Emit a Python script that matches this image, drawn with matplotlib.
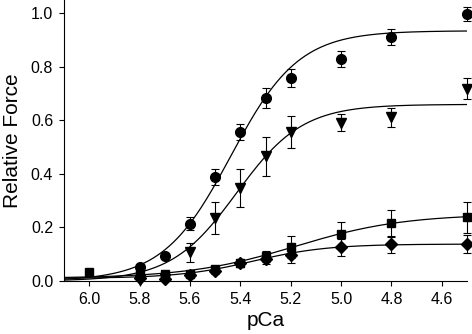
import numpy as np
import matplotlib
matplotlib.use("Agg")
import matplotlib.pyplot as plt

plt.rcParams['font.family'] = ['Liberation Sans', 'DejaVu Sans']

# data
pca_circ = [5.8, 5.7, 5.6, 5.5, 5.4, 5.3, 5.2, 5.0, 4.8, 4.5]
force_circ = [0.053, 0.094, 0.214, 0.387, 0.556, 0.684, 0.759, 0.828, 0.913, 0.997]
err_circ = [0.0, 0.0, 0.025, 0.03, 0.03, 0.038, 0.035, 0.03, 0.03, 0.025]

pca_tri = [5.8, 5.7, 5.6, 5.5, 5.4, 5.3, 5.2, 5.0, 4.8, 4.5]
force_tri = [0.004, 0.008, 0.107, 0.234, 0.348, 0.466, 0.557, 0.591, 0.611, 0.719]
err_tri = [0.0, 0.0, 0.035, 0.06, 0.07, 0.073, 0.06, 0.032, 0.036, 0.038]

pca_sq = [6.0, 5.8, 5.7, 5.6, 5.5, 5.4, 5.3, 5.2, 5.0, 4.8, 4.5]
force_sq = [0.032, 0.025, 0.025, 0.025, 0.046, 0.068, 0.092, 0.127, 0.174, 0.215, 0.238]
err_sq = [0.008, 0.0, 0.0, 0.008, 0.01, 0.015, 0.02, 0.04, 0.046, 0.05, 0.059]

pca_dia = [5.8, 5.7, 5.6, 5.5, 5.4, 5.3, 5.2, 5.0, 4.8, 4.5]
force_dia = [0.01, 0.008, 0.024, 0.036, 0.066, 0.082, 0.097, 0.126, 0.137, 0.138]
err_dia = [0.0, 0.0, 0.005, 0.008, 0.012, 0.02, 0.03, 0.032, 0.033, 0.035]

# Hill fit parameters (amplitude, pCa50, nH, baseline)
fit_circ = (0.935, 5.4375, 3.23, 0.0)
fit_tri = (0.66, 5.414, 3.33, 0.0)
fit_sq = (0.24, 5.18, 2.02, 0.01)
fit_dia = (0.128, 5.35, 2.93, 0.01)


def hill(p, amp, pca50, nh, base):
    return base + amp / (1 + 10 ** (nh * (p - pca50)))


fig = plt.figure(figsize=(4.72, 3.34), dpi=100)
ax = fig.add_axes([64 / 472, 53 / 334, 403 / 472, 281 / 334])

pfit = np.linspace(6.1, 4.5, 300)
series = [
    (pca_circ, force_circ, err_circ, fit_circ, 'o', 7),
    (pca_tri, force_tri, err_tri, fit_tri, 'v', 7.5),
    (pca_sq, force_sq, err_sq, fit_sq, 's', 6),
    (pca_dia, force_dia, err_dia, fit_dia, 'D', 5.8),
]
for px, fy, ferr, fit, mk, ms in series:
    ax.plot(pfit, hill(pfit, *fit), color='black', lw=0.9, zorder=2)
    eb = ax.errorbar(px, fy, yerr=ferr, fmt=mk, color='black', ms=ms,
                     ecolor='black', elinewidth=0.8, capsize=3, capthick=0.8,
                     zorder=3)
    for artist in eb.get_children():
        artist.set_clip_on(False)

ax.set_xlim(6.1, 4.5)
ax.set_ylim(0, 1.05)
ax.set_xticks([6.0, 5.8, 5.6, 5.4, 5.2, 5.0, 4.8, 4.6])
ax.set_yticks([0.0, 0.2, 0.4, 0.6, 0.8, 1.0])
ax.xaxis.set_major_formatter(matplotlib.ticker.FormatStrFormatter('%.1f'))
ax.yaxis.set_major_formatter(matplotlib.ticker.FormatStrFormatter('%.1f'))
ax.spines['top'].set_visible(False)
ax.spines['right'].set_visible(False)
for s in ['left', 'bottom']:
    ax.spines[s].set_linewidth(0.8)
ax.tick_params(direction='out', length=3.8, width=0.8, labelsize=11.5, pad=4)

ax.set_xlabel('pCa', fontsize=15, labelpad=3)
ax.set_ylabel('Relative Force', fontsize=15, labelpad=6)

fig.savefig('out.png', dpi=100)
